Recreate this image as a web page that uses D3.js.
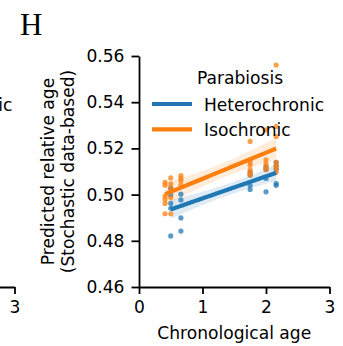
<!DOCTYPE html>
<html>
<head>
<meta charset="utf-8">
<script src="https://cdn.jsdelivr.net/npm/d3@7"></script>
<style>
  html, body { margin: 0; padding: 0; background: #fff; }
  svg { display: block; }
  text { font-family: "DejaVu Sans", sans-serif; }
</style>
</head>
<body>
<svg id="chart" width="343" height="346"></svg>
<script>
// Heterochronic pairs: chronological age and predicted relative age
const hetAge = [0.50, 0.50, 0.50, 0.50, 0.50, 0.66, 0.66, 0.66, 0.66,
                1.75, 1.75, 1.75, 1.75, 2.00, 2.00, 2.00, 2.00,
                2.16, 2.16, 2.16, 2.16, 2.16];
const hetValue = [0.4821, 0.4941, 0.4962, 0.4998, 0.5028, 0.4842, 0.4899, 0.4977, 0.5002,
                  0.5022, 0.5085, 0.5098, 0.5040, 0.5012, 0.5121, 0.5110, 0.5070,
                  0.5140, 0.5048, 0.5040, 0.5110, 0.5125];

// Isochronic pairs
const isoAge = [0.41, 0.41, 0.41, 0.41, 0.41, 0.41, 0.50, 0.50, 0.50, 0.50, 0.50,
                0.66, 0.66, 0.66, 0.66, 1.75, 1.75, 1.75, 1.75, 1.75, 1.75,
                2.00, 2.00, 2.00, 2.00, 2.00, 2.16, 2.16, 2.16, 2.16, 2.16, 2.16, 2.16];
const isoValue = [0.5053, 0.5041, 0.4994, 0.4980, 0.4917, 0.4962, 0.5072, 0.5047, 0.5028, 0.4987, 0.4917,
                  0.5082, 0.5070, 0.5041, 0.5060, 0.5230, 0.5128, 0.5108, 0.5093, 0.5085, 0.5140,
                  0.5280, 0.5133, 0.5108, 0.5150, 0.5120, 0.5561, 0.5295, 0.5252, 0.5125, 0.5097, 0.5140, 0.5115];

const groups = ["Heterochronic", "Isochronic"];
const groupColors = ["#1f77b4", "#ff7f0e"];
const xTicks = [0, 1, 2, 3];
const yTicks = [0.46, 0.48, 0.50, 0.52, 0.54, 0.56];

const svg = d3.select("#chart");
const FONT = 17.1;

const x = d3.scaleLinear().domain([0, 3]).range([139, 329.5]);
const y = d3.scaleLinear().domain([0.46, 0.56]).range([287, 56]);

// Ordinary least squares fit with an analytic 95% confidence band
function tQuantile975(df) {
  const z = 1.959964;
  return z + (z ** 3 + z) / (4 * df) + (5 * z ** 5 + 16 * z ** 3 + 3 * z) / (96 * df * df);
}
function fit(xs, ys) {
  const n = xs.length;
  const mx = d3.mean(xs), my = d3.mean(ys);
  let sxx = 0, sxy = 0;
  for (let i = 0; i < n; i++) { sxx += (xs[i] - mx) ** 2; sxy += (xs[i] - mx) * (ys[i] - my); }
  const b = sxy / sxx, a = my - b * mx;
  let sse = 0;
  for (let i = 0; i < n; i++) sse += (ys[i] - (a + b * xs[i])) ** 2;
  const s = Math.sqrt(sse / (n - 2));
  const t = tQuantile975(n - 2);
  const [x0, x1] = d3.extent(xs);
  const grid = d3.range(0, 61).map(k => x0 + (x1 - x0) * k / 60);
  return grid.map(g => {
    const yhat = a + b * g;
    const half = t * s * Math.sqrt(1 / n + (g - mx) ** 2 / sxx);
    return { x: g, y: yhat, lo: yhat - half, hi: yhat + half };
  });
}

const series = [
  { name: groups[0], color: groupColors[0], ages: hetAge, values: hetValue },
  { name: groups[1], color: groupColors[1], ages: isoAge, values: isoValue }
];

const plot = svg.append("g");

// confidence bands
series.forEach(s => {
  const f = fit(s.ages, s.values);
  s.fitted = f;
  plot.append("path")
    .datum(f)
    .attr("fill", s.color)
    .attr("fill-opacity", 0.15)
    .attr("d", d3.area().x(d => x(d.x)).y0(d => y(d.lo)).y1(d => y(d.hi)));
});

// scatter points
series.forEach(s => {
  plot.append("g").selectAll("circle")
    .data(s.ages.map((a, i) => [a, s.values[i]]))
    .join("circle")
    .attr("cx", d => x(d[0]))
    .attr("cy", d => y(d[1]))
    .attr("r", 2.6)
    .attr("fill", s.color)
    .attr("fill-opacity", 0.75);
});

// regression lines
series.forEach(s => {
  plot.append("path")
    .datum(s.fitted)
    .attr("fill", "none")
    .attr("stroke", s.color)
    .attr("stroke-width", 4.2)
    .attr("d", d3.line().x(d => x(d.x)).y(d => y(d.y)));
});

// axes
function styleAxis(g) {
  g.selectAll(".domain").attr("stroke", "#000").attr("stroke-width", 1.8);
  g.selectAll(".tick line").attr("stroke", "#000").attr("stroke-width", 1.8);
  g.selectAll(".tick text").attr("fill", "#000").style("font-size", FONT + "px")
    .style("font-family", "DejaVu Sans, sans-serif");
}

svg.append("g")
  .attr("transform", `translate(0,${y.range()[0]})`)
  .call(d3.axisBottom(x).tickValues(xTicks).tickFormat(d3.format("d"))
    .tickSize(7).tickSizeOuter(0).tickPadding(7))
  .call(styleAxis);

svg.append("g")
  .attr("transform", `translate(${x.range()[0]},0)`)
  .call(d3.axisLeft(y).tickValues(yTicks).tickFormat(d3.format(".2f"))
    .tickSize(7.5).tickSizeOuter(0).tickPadding(7))
  .call(styleAxis);

// axis titles
svg.append("text")
  .attr("x", (x.range()[0] + x.range()[1]) / 2)
  .attr("y", 339)
  .attr("text-anchor", "middle")
  .style("font-size", FONT + "px")
  .text("Chronological age");

const yMid = (y.range()[0] + y.range()[1]) / 2;
[["Predicted relative age", 53.5], ["(Stochastic data-based)", 73.5]].forEach(([t, bx]) => {
  svg.append("text")
    .attr("transform", `translate(${bx},${yMid}) rotate(-90)`)
    .attr("text-anchor", "middle")
    .style("font-size", FONT + "px")
    .text(t);
});

// legend
function legend(g, left) {
  g.append("text").attr("x", left + 58).attr("y", 84)
    .style("font-size", FONT + "px").text("Parabiosis");
  groups.forEach((name, i) => {
    const cy = 104 + i * 25.3;
    g.append("line")
      .attr("x1", left + 13).attr("x2", left + 53)
      .attr("y1", cy).attr("y2", cy)
      .attr("stroke", groupColors[i]).attr("stroke-width", 4.2);
    g.append("text").attr("x", left + 65).attr("y", cy + 6.5)
      .style("font-size", FONT + "px").text(name);
  });
}
legend(svg.append("g"), x.range()[0]);

// neighbouring panel edge: its x axis end and legend tail
const xPrev = d3.scaleLinear().domain([0, 3]).range([14.5 - 190.5, 14.5]);
svg.append("g")
  .attr("transform", `translate(0,${y.range()[0]})`)
  .call(d3.axisBottom(xPrev).tickValues([3]).tickFormat(d3.format("d"))
    .tickSize(7).tickSizeOuter(0).tickPadding(7))
  .call(styleAxis);
const prevLegend = svg.append("g");
prevLegend.append("text").attr("x", 12.5).attr("y", 110.5)
  .attr("text-anchor", "end")
  .style("font-size", FONT + "px").text("Heterochronic");

// panel letter
svg.append("text")
  .attr("x", 20).attr("y", 35)
  .style("font-family", "Liberation Serif, Times New Roman, serif")
  .style("font-size", "31px")
  .text("H");
</script>
</body>
</html>
